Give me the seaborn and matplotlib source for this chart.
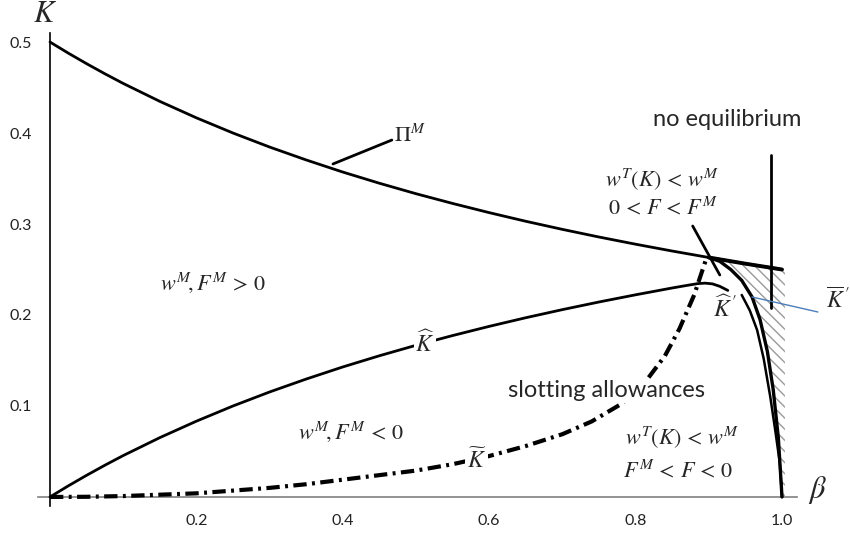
import numpy as np
import pandas as pd
import matplotlib
matplotlib.use("Agg")
import matplotlib.pyplot as plt
import seaborn as sns

# ---------------- data ----------------
beta_pi = [0.0, 0.025, 0.05, 0.075, 0.1, 0.15, 0.2, 0.25, 0.3, 0.35, 0.4, 0.45, 0.5,
           0.55, 0.6, 0.65, 0.7, 0.75, 0.8, 0.85, 0.9, 0.95, 1.0]
pi_m = [0.5, 0.4878, 0.4762, 0.4651, 0.4545, 0.4348, 0.4167, 0.4, 0.3846, 0.3704, 0.3571,
        0.3448, 0.3333, 0.3226, 0.3125, 0.3030, 0.2941, 0.2857, 0.2778, 0.2703, 0.2632,
        0.2564, 0.25]

beta_khat = [0.0, 0.025, 0.05, 0.075, 0.1, 0.15, 0.2, 0.25, 0.3, 0.35, 0.4, 0.45, 0.5,
             0.55, 0.6, 0.65, 0.7, 0.75, 0.8, 0.85, 0.87, 0.885, 0.895, 0.905, 0.915, 0.926]
k_hat = [0.0, 0.0122, 0.0238, 0.0349, 0.0455, 0.0652, 0.0833, 0.1, 0.1154, 0.1296, 0.1429,
         0.1552, 0.1667, 0.1774, 0.1875, 0.1970, 0.2059, 0.2143, 0.2222, 0.2297, 0.2325,
         0.2345, 0.235, 0.2342, 0.2315, 0.227]

beta_ktil = [0.0, 0.05, 0.1, 0.15, 0.2, 0.25, 0.3, 0.35, 0.4, 0.45, 0.5, 0.55, 0.6, 0.65,
             0.7, 0.74, 0.78, 0.81, 0.84, 0.86, 0.88, 0.897]
k_til = [0.0, 0.0002, 0.001, 0.0025, 0.004, 0.007, 0.010, 0.014, 0.019, 0.024, 0.029, 0.036,
         0.045, 0.056, 0.069, 0.083, 0.102, 0.123, 0.155, 0.185, 0.222, 0.263]

beta_khatp = [0.945, 0.956, 0.966, 0.975, 0.984, 0.991, 0.997, 1.0]
k_hatp = [0.222, 0.205, 0.1835, 0.152, 0.110, 0.072, 0.0374, 0.0]

beta_kbar = [0.9, 0.915, 0.93, 0.945, 0.959, 0.97, 0.98, 0.988, 0.995, 1.0]
k_bar = [0.2632, 0.259, 0.250, 0.238, 0.220, 0.195, 0.160, 0.118, 0.065, 0.0]

beta_shade = [0.9, 0.915, 0.93, 0.945, 0.959, 0.97, 0.98, 0.988, 0.995, 1.0, 1.004]
shade_lo = [0.2632, 0.259, 0.250, 0.238, 0.220, 0.195, 0.160, 0.118, 0.065, 0.0, 0.0]
shade_hi = [0.2632, 0.2611, 0.2591, 0.2570, 0.2551, 0.2536, 0.2522, 0.2511, 0.2503, 0.25, 0.25]

x_ticks = [0.2, 0.4, 0.6, 0.8, 1.0]
x_tick_labels = ["0.2", "0.4", "0.6", "0.8", "1.0"]
y_ticks = [0.1, 0.2, 0.3, 0.4, 0.5]
y_tick_labels = ["0.1", "0.2", "0.3", "0.4", "0.5"]

# ---------------- figure ----------------
sns.set_theme(style="white")
plt.rcParams["font.family"] = ["Lato", "DejaVu Sans"]
plt.rcParams["mathtext.fontset"] = "stix"
plt.rcParams["hatch.linewidth"] = 1.0

fig = plt.figure(figsize=(8.5, 5.33), dpi=100)
ax = fig.add_axes([0, 0, 1, 1])
ax.set_xlim(-0.0683, 1.0929)
ax.set_ylim(-0.0396, 0.5462)
ax.patch.set_alpha(0)

# shaded "no equilibrium" region
ax.fill_between(beta_shade, shade_lo, shade_hi, facecolor="none",
                edgecolor="#9a9a9a", hatch="\\\\\\", linewidth=0, zorder=1)

df_pi = pd.DataFrame({"beta": beta_pi, "K": pi_m})
df_pi_tail = df_pi[df_pi["beta"] >= 0.9]
df_hat = pd.DataFrame({"beta": beta_khat, "K": k_hat})
df_til = pd.DataFrame({"beta": beta_ktil, "K": k_til})
df_hatp = pd.DataFrame({"beta": beta_khatp, "K": k_hatp})
df_bar = pd.DataFrame({"beta": beta_kbar, "K": k_bar})

sns.lineplot(data=df_pi, x="beta", y="K", ax=ax, color="black", lw=2.0, estimator=None, sort=False, zorder=3)
sns.lineplot(data=df_pi_tail, x="beta", y="K", ax=ax, color="black", lw=2.8, estimator=None, sort=False, zorder=3)
sns.lineplot(data=df_hat, x="beta", y="K", ax=ax, color="black", lw=2.0, estimator=None, sort=False, zorder=3)
sns.lineplot(data=df_hatp, x="beta", y="K", ax=ax, color="black", lw=1.8, estimator=None, sort=False, zorder=3)
sns.lineplot(data=df_bar, x="beta", y="K", ax=ax, color="black", lw=2.4, estimator=None, sort=False, zorder=3)
sns.lineplot(data=df_til, x="beta", y="K", ax=ax, color="black", lw=3.0, estimator=None, sort=False, zorder=3)
ax.lines[-1].set_linestyle((0, (3.2, 1.3, 0.7, 1.3)))
ax.lines[-1].set_dash_capstyle("butt")

# axes in Mathematica style
for s in ["top", "right"]:
    ax.spines[s].set_visible(False)
ax.spines["left"].set_position(("data", 0))
ax.spines["bottom"].set_position(("data", 0))
ax.spines["left"].set_bounds(-0.01, 0.51)
ax.spines["bottom"].set_bounds(-0.017, 1.0205)
ax.spines["left"].set_color("black")
ax.spines["bottom"].set_color("#808080")
ax.spines["left"].set_linewidth(1.2)
ax.spines["bottom"].set_linewidth(1.2)
ax.set_xticks(x_ticks)
ax.set_xticklabels(x_tick_labels)
ax.set_yticks(y_ticks)
ax.set_yticklabels(y_tick_labels)
ax.set_xticks(np.arange(0.05, 1.0, 0.05), minor=True)
ax.set_yticks(np.arange(0.02, 0.5, 0.02), minor=True)
ax.tick_params(axis="both", which="major", direction="in", length=4, width=0.8,
               labelsize=11.5, colors="#333333")
ax.tick_params(axis="both", which="minor", direction="in", length=2.5, width=0.7, colors="#555555")
ax.tick_params(axis="x", which="major", pad=12, labelcolor="#222222")
ax.tick_params(axis="y", which="major", pad=13, labelcolor="#222222")
ax.set_xlabel("")
ax.set_ylabel("")

# pointer lines
ax.plot([0.3866, 0.467], [0.366, 0.3923], color="black", lw=2.0, zorder=3)
ax.plot([0.878, 0.915], [0.2978, 0.244], color="black", lw=2.0, zorder=3)
ax.plot([0.985, 0.985], [0.376, 0.2077], color="black", lw=2.0, zorder=4)
ax.plot([0.959, 1.049], [0.2198, 0.2033], color="#4a7ebb", lw=1.0, zorder=4)

# labels
serif = dict(fontsize=16)
ax.text(-0.0068, 0.532, "$K$", fontsize=22, ha="center", va="center")
ax.text(1.048, 0.0077, r"$\beta$", fontsize=22, ha="center", va="center")
ax.text(0.47, 0.398, r"$\Pi^M$", ha="left", va="center", **serif)
ax.text(0.2227, 0.2352, r"$w^M\!, F^M\,>\,0$", ha="center", va="center", **serif)
ax.text(0.411, 0.0714, r"$w^M\!, F^M\,<\,0$", ha="center", va="center", **serif)
ax.text(0.512, 0.169, r"$\widehat{K}$", ha="center", va="center", fontsize=17,
        bbox=dict(facecolor="white", edgecolor="none", pad=1), zorder=5)
ax.text(0.583, 0.0407, r"$\widetilde{K}$", ha="center", va="center", fontsize=17,
        bbox=dict(facecolor="white", edgecolor="none", pad=1), zorder=5)
ax.text(0.7596, 0.1165, "slotting allowances", ha="center", va="center", fontsize=17,
        bbox=dict(facecolor="white", edgecolor="none", pad=1), zorder=5)
ax.text(0.863, 0.0648, r"$w^T(K)\,<\,w^M$", ha="center", va="center", **serif)
ax.text(0.858, 0.0297, r"$F^M\,<\,F\,<\,0$", ha="center", va="center", **serif)
ax.text(0.836, 0.348, r"$w^T(K)\,<\,w^M$", ha="center", va="center", **serif)
ax.text(0.8375, 0.318, r"$0\,<\,F\,<\,F^M$", ha="center", va="center", **serif)
ax.text(0.922, 0.2077, r"$\widehat{K}^{\,\prime}$", ha="center", va="center", fontsize=17, zorder=5)
ax.text(1.0765, 0.2165, r"$\overline{K}^{\,\prime}$", ha="center", va="center", fontsize=17, zorder=5)
ax.text(0.925, 0.415, "no equilibrium", ha="center", va="center", fontsize=17)

fig.savefig("out.png", dpi=100)
